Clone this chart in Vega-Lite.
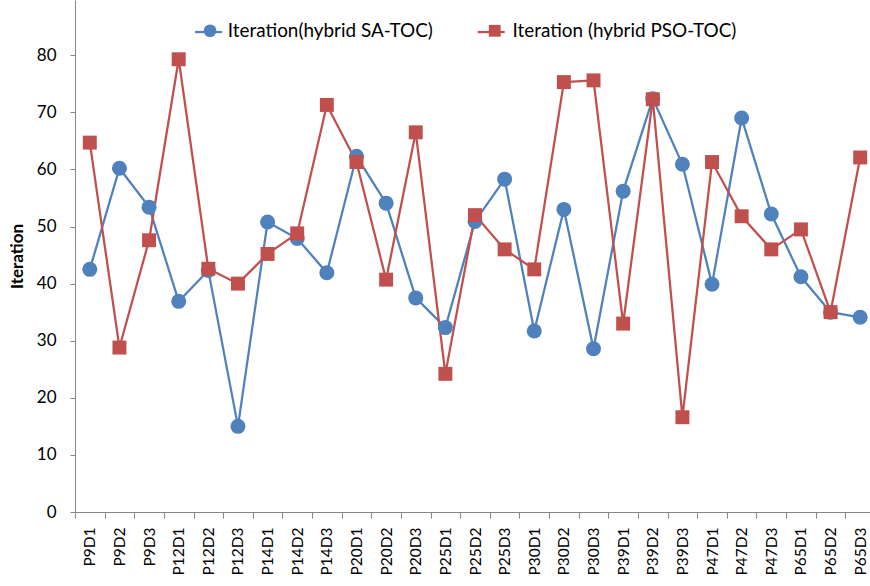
{
  "$schema": "https://vega.github.io/schema/vega-lite/v6.json",
  "width": 800,
  "height": 512,
  "autosize": {"type": "none"},
  "padding": {"left": 75, "top": 0, "right": 0, "bottom": 74},
  "background": "white",
  "config": {"view": {"stroke": null}, "font": "Lato", "legend": {"padding": 0}},
  "data": {"values": [
    {"p": "P9D1", "s": "Iteration(hybrid SA-TOC)", "v": 42.5},
    {"p": "P9D2", "s": "Iteration(hybrid SA-TOC)", "v": 60.2},
    {"p": "P9D3", "s": "Iteration(hybrid SA-TOC)", "v": 53.4},
    {"p": "P12D1", "s": "Iteration(hybrid SA-TOC)", "v": 36.9},
    {"p": "P12D2", "s": "Iteration(hybrid SA-TOC)", "v": 42.3},
    {"p": "P12D3", "s": "Iteration(hybrid SA-TOC)", "v": 15.0},
    {"p": "P14D1", "s": "Iteration(hybrid SA-TOC)", "v": 50.8},
    {"p": "P14D2", "s": "Iteration(hybrid SA-TOC)", "v": 47.9},
    {"p": "P14D3", "s": "Iteration(hybrid SA-TOC)", "v": 41.9},
    {"p": "P20D1", "s": "Iteration(hybrid SA-TOC)", "v": 62.3},
    {"p": "P20D2", "s": "Iteration(hybrid SA-TOC)", "v": 54.1},
    {"p": "P20D3", "s": "Iteration(hybrid SA-TOC)", "v": 37.5},
    {"p": "P25D1", "s": "Iteration(hybrid SA-TOC)", "v": 32.3},
    {"p": "P25D2", "s": "Iteration(hybrid SA-TOC)", "v": 50.9},
    {"p": "P25D3", "s": "Iteration(hybrid SA-TOC)", "v": 58.3},
    {"p": "P30D1", "s": "Iteration(hybrid SA-TOC)", "v": 31.7},
    {"p": "P30D2", "s": "Iteration(hybrid SA-TOC)", "v": 53.0},
    {"p": "P30D3", "s": "Iteration(hybrid SA-TOC)", "v": 28.6},
    {"p": "P39D1", "s": "Iteration(hybrid SA-TOC)", "v": 56.2},
    {"p": "P39D2", "s": "Iteration(hybrid SA-TOC)", "v": 72.4},
    {"p": "P39D3", "s": "Iteration(hybrid SA-TOC)", "v": 60.9},
    {"p": "P47D1", "s": "Iteration(hybrid SA-TOC)", "v": 39.9},
    {"p": "P47D2", "s": "Iteration(hybrid SA-TOC)", "v": 69.0},
    {"p": "P47D3", "s": "Iteration(hybrid SA-TOC)", "v": 52.2},
    {"p": "P65D1", "s": "Iteration(hybrid SA-TOC)", "v": 41.2},
    {"p": "P65D2", "s": "Iteration(hybrid SA-TOC)", "v": 35.0},
    {"p": "P65D3", "s": "Iteration(hybrid SA-TOC)", "v": 34.1},
    {"p": "P9D1", "s": "Iteration (hybrid PSO-TOC)", "v": 64.7},
    {"p": "P9D2", "s": "Iteration (hybrid PSO-TOC)", "v": 28.8},
    {"p": "P9D3", "s": "Iteration (hybrid PSO-TOC)", "v": 47.6},
    {"p": "P12D1", "s": "Iteration (hybrid PSO-TOC)", "v": 79.3},
    {"p": "P12D2", "s": "Iteration (hybrid PSO-TOC)", "v": 42.6},
    {"p": "P12D3", "s": "Iteration (hybrid PSO-TOC)", "v": 40.0},
    {"p": "P14D1", "s": "Iteration (hybrid PSO-TOC)", "v": 45.2},
    {"p": "P14D2", "s": "Iteration (hybrid PSO-TOC)", "v": 48.8},
    {"p": "P14D3", "s": "Iteration (hybrid PSO-TOC)", "v": 71.3},
    {"p": "P20D1", "s": "Iteration (hybrid PSO-TOC)", "v": 61.3},
    {"p": "P20D2", "s": "Iteration (hybrid PSO-TOC)", "v": 40.7},
    {"p": "P20D3", "s": "Iteration (hybrid PSO-TOC)", "v": 66.5},
    {"p": "P25D1", "s": "Iteration (hybrid PSO-TOC)", "v": 24.2},
    {"p": "P25D2", "s": "Iteration (hybrid PSO-TOC)", "v": 52.0},
    {"p": "P25D3", "s": "Iteration (hybrid PSO-TOC)", "v": 46.0},
    {"p": "P30D1", "s": "Iteration (hybrid PSO-TOC)", "v": 42.5},
    {"p": "P30D2", "s": "Iteration (hybrid PSO-TOC)", "v": 75.3},
    {"p": "P30D3", "s": "Iteration (hybrid PSO-TOC)", "v": 75.6},
    {"p": "P39D1", "s": "Iteration (hybrid PSO-TOC)", "v": 33.0},
    {"p": "P39D2", "s": "Iteration (hybrid PSO-TOC)", "v": 72.3},
    {"p": "P39D3", "s": "Iteration (hybrid PSO-TOC)", "v": 16.6},
    {"p": "P47D1", "s": "Iteration (hybrid PSO-TOC)", "v": 61.3},
    {"p": "P47D2", "s": "Iteration (hybrid PSO-TOC)", "v": 51.8},
    {"p": "P47D3", "s": "Iteration (hybrid PSO-TOC)", "v": 46.0},
    {"p": "P65D1", "s": "Iteration (hybrid PSO-TOC)", "v": 49.5},
    {"p": "P65D2", "s": "Iteration (hybrid PSO-TOC)", "v": 35.0},
    {"p": "P65D3", "s": "Iteration (hybrid PSO-TOC)", "v": 62.1}
  ]},
  "encoding": {
    "x": {
      "field": "p", "type": "nominal", "sort": null,
      "scale": {"paddingInner": 0, "paddingOuter": 0},
      "axis": {
        "title": null, "labelAngle": -90, "labelFontSize": 15.5, "labelColor": "#000",
        "labelPadding": 9, "tickBand": "extent", "tickSize": 6,
        "tickColor": "#868686", "domainColor": "#868686", "domainWidth": 1, "tickWidth": 1,
        "labelFont": "Lato"
      }
    },
    "y": {
      "field": "v", "type": "quantitative",
      "scale": {"domain": [0, 89.68], "nice": false},
      "axis": {
        "title": "Iteration", "titleFontSize": 17, "titleFontWeight": "bold", "titleColor": "#000",
        "titlePadding": 10, "values": [0, 10, 20, 30, 40, 50, 60, 70, 80],
        "labelFontSize": 17, "labelColor": "#000", "labelPadding": 14, "tickSize": 5,
        "tickColor": "#868686", "domainColor": "#868686", "grid": false, "labelFont": "Lato"
      }
    }
  },
  "layer": [
    {
      "mark": {"type": "line", "strokeWidth": 2.25},
      "encoding": {
        "stroke": {
          "field": "s", "type": "nominal", "sort": null,
          "scale": {"range": ["#4F81BD", "#C0504D"]},
          "legend": {
            "title": null, "orient": "none", "direction": "horizontal",
            "legendX": 118.5, "legendY": 17, "labelFontSize": 18.9, "labelExpr": "''",
            "labelFont": "Lato", "columnPadding": 240.7, "labelOffset": 8.3, "labelLimit": 500,
            "symbolType": "stroke", "symbolSize": 729, "symbolStrokeWidth": 2.25
          }
        }
      }
    },
    {
      "mark": {"type": "point", "filled": true, "opacity": 1, "size": 225},
      "encoding": {
        "color": {
          "field": "s", "type": "nominal", "sort": null,
          "scale": {"range": ["#4F81BD", "#C0504D"]},
          "legend": {
            "title": null, "orient": "none", "direction": "horizontal",
            "legendX": 125.6, "legendY": 21, "labelFontSize": 18.9, "labelColor": "#000",
            "labelFont": "Lato", "columnPadding": 51.7, "labelOffset": 8.3, "labelLimit": 500,
            "symbolSize": 161, "symbolOpacity": 1
          }
        },
        "shape": {
          "field": "s", "type": "nominal", "sort": null,
          "scale": {"range": ["circle", "M-0.93,-0.93H0.93V0.93H-0.93Z"]}
        }
      }
    }
  ]
}
